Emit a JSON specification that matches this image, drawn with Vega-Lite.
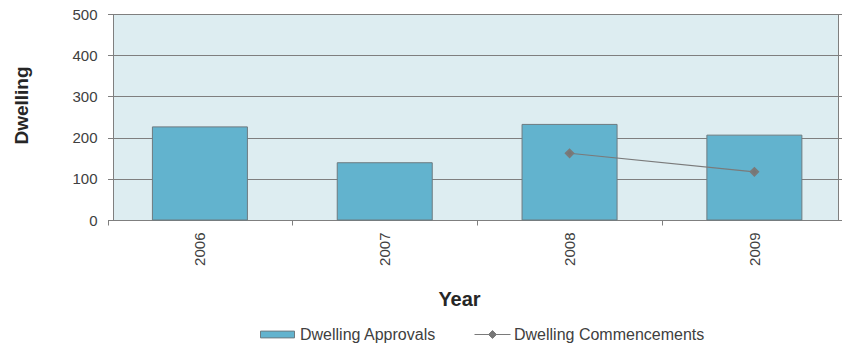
{
  "$schema": "https://vega.github.io/schema/vega-lite/v6.json",
  "autosize": "none",
  "width": 725,
  "height": 206,
  "padding": {"left": 113, "top": 14, "right": 4, "bottom": 124},
  "background": "#ffffff",
  "config": {
    "font": "Liberation Sans",
    "view": {"fill": "#ddedf1", "stroke": "#7f7f7f", "strokeWidth": 1},
    "axis": {
      "domainColor": "#7f7f7f",
      "tickColor": "#7f7f7f",
      "gridColor": "#7f7f7f",
      "labelColor": "#404040",
      "titleColor": "#262626",
      "labelFont": "Liberation Sans",
      "titleFont": "Liberation Sans",
      "labelFontSize": 15,
      "titleFontSize": 19,
      "titleFontWeight": "bold"
    },
    "legend": {"labelFont": "Liberation Sans", "labelFontSize": 16, "labelColor": "#404040", "labelLimit": 400}
  },
  "data": {
    "values": [
      {"year": "2006", "series": "Dwelling Approvals", "value": 226},
      {"year": "2007", "series": "Dwelling Approvals", "value": 139},
      {"year": "2008", "series": "Dwelling Approvals", "value": 232},
      {"year": "2009", "series": "Dwelling Approvals", "value": 206},
      {"year": "2008", "series": "Dwelling Commencements", "value": 162},
      {"year": "2009", "series": "Dwelling Commencements", "value": 117}
    ]
  },
  "encoding": {
    "x": {
      "field": "year",
      "type": "nominal",
      "scale": {"paddingInner": 0, "paddingOuter": 0, "range": [-5.5, 733.8]},
      "axis": {
        "title": "Year",
        "labelAngle": -90,
        "labelPadding": 7,
        "tickSize": 5,
        "tickBand": "extent",
        "domain": false,
        "grid": false,
        "titleX": 346,
        "titleY": 85,
        "titleBaseline": "alphabetic",
        "titleFontSize": 20,
        "titleFontWeight": 600
      }
    },
    "y": {
      "field": "value",
      "type": "quantitative",
      "scale": {"domain": [0, 500]},
      "axis": {
        "title": "Dwelling",
        "values": [0, 100, 200, 300, 400, 500],
        "tickSize": 4,
        "labelPadding": 12,
        "grid": true,
        "titleX": -86,
        "titleY": 91,
        "titleAngle": -90,
        "titleAlign": "center",
        "titleBaseline": "alphabetic"
      }
    }
  },
  "layer": [
    {
      "transform": [{"filter": "datum.series === 'Dwelling Approvals'"}],
      "mark": {"type": "bar", "stroke": "#6d7b80", "strokeWidth": 1, "width": {"band": 0.514}},
      "encoding": {
        "fill": {
          "field": "series",
          "type": "nominal",
          "scale": {"domain": ["Dwelling Approvals"], "range": ["#62b3ce"]},
          "legend": {
            "title": null,
            "orient": "none",
            "legendX": 147,
            "legendY": 303,
            "padding": 0,
            "symbolType": "M-1,-0.2H1V0.2H-1Z",
            "symbolSize": 1156,
            "symbolStrokeColor": "#6d7b80",
            "symbolStrokeWidth": 1,
            "labelOffset": 5
          }
        }
      }
    },
    {
      "transform": [{"filter": "datum.series === 'Dwelling Commencements'"}],
      "mark": {
        "type": "line",
        "strokeWidth": 1.2,
        "point": {"shape": "diamond", "filled": true, "size": 55, "color": "#767676"}
      },
      "encoding": {
        "stroke": {
          "field": "series",
          "type": "nominal",
          "scale": {"domain": ["Dwelling Commencements"], "range": ["#7a7a7a"]},
          "legend": {
            "title": null,
            "orient": "none",
            "legendX": 361,
            "legendY": 302,
            "padding": 0,
            "symbolType": "M-1,0H1M0,-0.22L0.22,0L0,0.22L-0.22,0Z",
            "symbolSize": 1296,
            "symbolFillColor": "#767676",
            "symbolStrokeWidth": 1,
            "labelOffset": 3
          }
        }
      }
    }
  ]
}
